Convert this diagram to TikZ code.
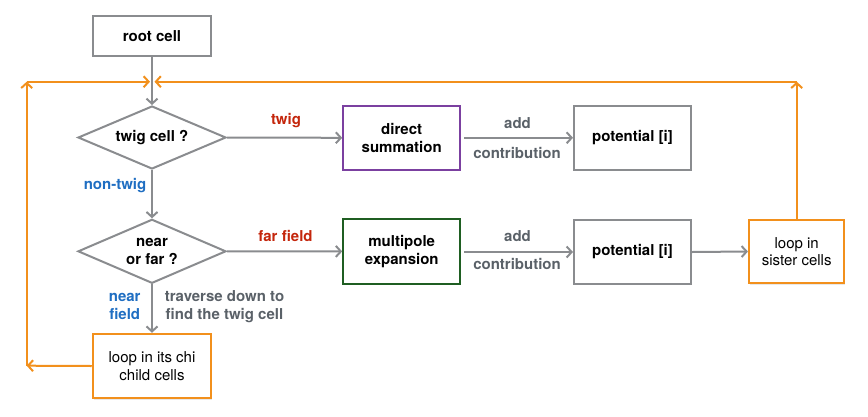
\documentclass[tikz,border=0pt]{standalone}
\usepackage{fontspec}
\setmainfont{TeX Gyre Heros}
\usetikzlibrary{arrows.meta,shapes.geometric,shadows}
\definecolor{lgray}{HTML}{8A8C8F}
\definecolor{tgray}{HTML}{5A6168}
\definecolor{orng}{HTML}{F2901C}
\definecolor{purp}{HTML}{7B40A0}
\definecolor{dgreen}{HTML}{1F5E22}
\definecolor{lred}{HTML}{C4260C}
\definecolor{lblue}{HTML}{1F6EC2}
\begin{document}
\begin{tikzpicture}[x=1pt,y=-1pt,
  every node/.style={font=\fontsize{15}{17.5}\selectfont, align=center, inner sep=0pt},
  graybox/.style={draw=lgray, line width=2pt, fill=white, minimum width=118pt, minimum height=64pt, font=\fontsize{15}{17.5}\selectfont\bfseries},
  colbox/.style={graybox, draw=#1},
  decide/.style={draw=lgray, line width=2pt, fill=white, diamond, aspect=2.35, minimum width=148pt, minimum height=63pt, font=\fontsize{15}{17.5}\selectfont\bfseries},
  loopbox/.style={draw=orng, line width=2.5pt, fill=white, drop shadow={opacity=0.18, shadow xshift=1.2pt, shadow yshift=-1.5pt}},
  garrow/.style={draw=lgray, line width=2pt, -{Straight Barb[length=5pt,width=11pt,line width=2pt]}},
  oarrow/.style={draw=orng, line width=2pt, -{Straight Barb[length=5pt,width=11pt,line width=2pt]}},
  lbl/.style={font=\fontsize{15}{17.5}\selectfont\bfseries, text=#1}
]
\useasboundingbox (0,0) rectangle (868,416);

% nodes
\node[graybox, minimum height=40pt] (root) at (152,36) {root cell};
\node[decide] (twig) at (152,137.5) {twig cell ?};
\node[decide, minimum height=64pt] (near) at (152,251.3) {near\\or far ?};
\node[loopbox, minimum width=118pt, minimum height=64pt] (child) at (152,366) {loop in its chi\\child cells};
\node[colbox=purp, minimum width=117pt] (direct) at (401.7,137.8) {direct\\summation};
\node[graybox, minimum width=117pt] (pot1) at (632.5,137.8) {potential [i]};
\node[colbox=dgreen, minimum width=117pt, minimum height=65pt] (multi) at (401.7,251.4) {multipole\\expansion};
\node[graybox, minimum width=117pt] (pot2) at (632.5,252) {potential [i]};
\node[loopbox, minimum width=95pt, minimum height=63pt] (sister) at (796.7,251.5) {loop in\\sister cells};

% coordinates for loop-back path
\coordinate (cBL) at (26.7,365.7);
\coordinate (cTL) at (26.7,81.7);
\coordinate (mL) at (150,81.7);
\coordinate (cTR) at (796.7,81.7);
\coordinate (mR) at (154.5,81.7);

% gray connectors
\draw[garrow] (root.south) -- (twig.north);
\draw[garrow] (twig.south) -- (near.north);
\draw[garrow] (near.south) -- (child.north);
\draw[garrow] (twig.east) -- (direct.west);
\draw[garrow] (near.east) -- (multi.west);
\draw[garrow, shorten <=3pt] (direct.east) -- (pot1.west);
\draw[garrow, shorten <=3pt] (multi.east |- pot2.west) -- (pot2.west);
\draw[garrow] (pot2.east) -- (sister.west);

% orange loops
\draw[oarrow] (child.west) -- (cBL);
\draw[oarrow] (cBL) -- (cTL);
\draw[oarrow] (cTL) -- (mL);
\draw[oarrow] (sister.north) -- (cTR);
\draw[oarrow] (cTR) -- (mR);

% labels
\node[lbl=lred] (ltwig) at (286,121) {twig};
\node[lbl=lred] (lfar) at (285.5,236) {far field};
\node[lbl=lblue, anchor=east] (lnontwig) at (146.5,186) {non-twig};
\node[lbl=lblue] (lnear) at (124.7,306.5) {near\\field};
\node[lbl=tgray] (ltrav) at (224.5,306.5) {traverse down to\\find the twig cell};
\node[lbl=tgray] (ladd1) at (517.5,123.5) {add};
\node[lbl=tgray] (lcon1) at (517,152.7) {contribution};
\node[lbl=tgray] (ladd2) at (517.5,235.7) {add};
\node[lbl=tgray] (lcon2) at (517,263.5) {contribution};
\end{tikzpicture}
\end{document}
